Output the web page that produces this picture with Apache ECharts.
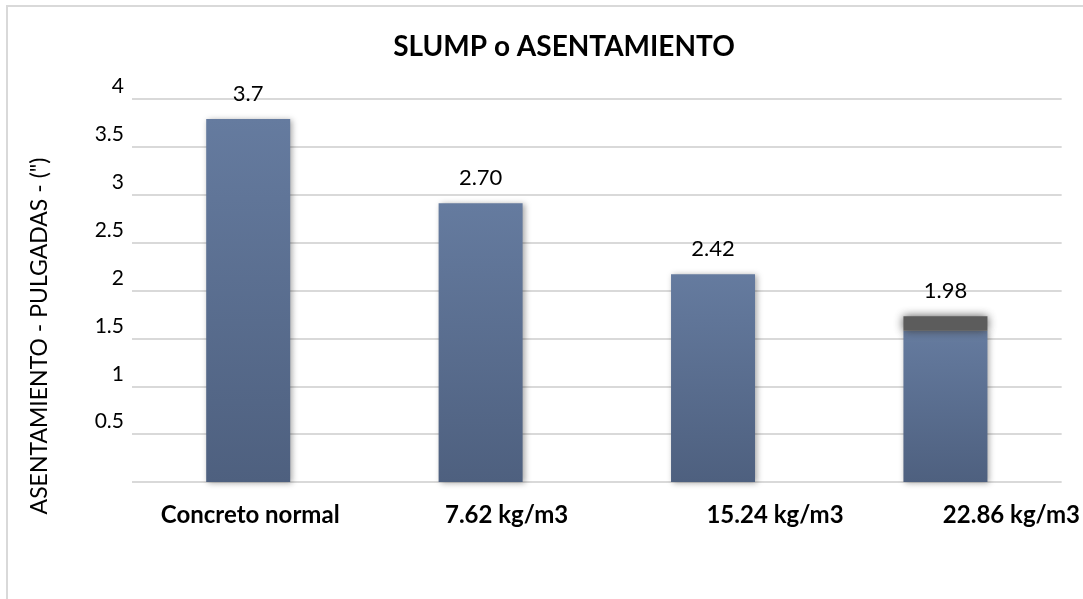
<!DOCTYPE html>
<html>
<head>
<meta charset="utf-8">
<script src="https://cdn.jsdelivr.net/npm/echarts@6/dist/echarts.min.js"></script>
<style>
html,body{margin:0;padding:0;background:#fff;}
#chart{width:1083px;height:599px;}
</style>
</head>
<body>
<div id="chart"></div>
<script>
// ---- data ----
var categories = ['Concreto normal', '7.62 kg/m3', '15.24 kg/m3', '22.86 kg/m3'];
var barValues = [3.79, 2.91, 2.17, 1.58];
var shadeValues = [0, 0, 0, 0.15];
var labelTexts = ['3.7', '2.70', '2.42', '1.98'];
var titleText = 'SLUMP o ASENTAMIENTO';
var yAxisTitle = 'ASENTAMIENTO - PULGADAS - (")';

// ---- style ----
var FONT = 'Lato, "Open Sans", sans-serif';
var labelShift = [2, 26, 62, 66];
var rich = {};
labelShift.forEach(function (s, i) {
  rich['c' + i] = { fontFamily: FONT, fontWeight: 'bold', fontSize: 24, color: '#000', padding: [0, 0, 0, 2 * s] };
});

var chart = echarts.init(document.getElementById('chart'), null, { renderer: 'canvas' });
chart.setOption({
  backgroundColor: '#fff',
  animation: false,
  grid: { left: 132, right: 21, top: 99, bottom: 117 },
  xAxis: {
    type: 'category',
    data: categories,
    axisLine: { show: false },
    axisTick: { show: false },
    axisLabel: {
      margin: 21,
      formatter: function (v) { return '{c' + categories.indexOf(v) + '|' + v + '}'; },
      rich: rich
    }
  },
  yAxis: {
    type: 'value',
    min: 0, max: 4, interval: 0.5,
    axisLine: { show: false },
    axisTick: { show: false },
    splitLine: { lineStyle: { color: '#d9d9d9', width: 2 } },
    axisLabel: {
      showMinLabel: false,
      fontFamily: FONT, fontSize: 21, color: '#000',
      margin: 8, verticalAlign: 'bottom', padding: [0, 0, 2, 0]
    }
  },
  series: [
    {
      type: 'bar',
      stack: 's',
      data: barValues,
      barWidth: 84,
      itemStyle: {
        color: new echarts.graphic.LinearGradient(0, 0, 0, 1, [
          { offset: 0, color: '#657b9f' },
          { offset: 1, color: '#4e607f' }
        ]),
        shadowBlur: 6, shadowColor: 'rgba(0,0,0,0.35)', shadowOffsetX: 2, shadowOffsetY: 1
      }
    },
    {
      type: 'bar',
      stack: 's',
      data: shadeValues,
      barWidth: 84,
      itemStyle: {
        color: '#5c5c5c',
        shadowBlur: 10, shadowColor: 'rgba(60,60,60,0.9)'
      },
      label: {
        show: true,
        position: 'top',
        distance: 14,
        fontFamily: FONT, fontSize: 22, color: '#000',
        formatter: function (p) { return labelTexts[p.dataIndex]; }
      }
    }
  ],
  graphic: [
    {
      type: 'rect', silent: true, z: -1,
      shape: { x: 7, y: 6, width: 1200, height: 700 },
      style: { fill: 'none', stroke: '#d9d9d9', lineWidth: 2 }
    },
    {
      type: 'text', x: 564, y: 47,
      style: { text: titleText, fontFamily: FONT, fontWeight: 'bold', fontSize: 28, fill: '#000', align: 'center', verticalAlign: 'middle' }
    },
    {
      type: 'text', x: 40, y: 336, rotation: Math.PI / 2,
      style: { text: yAxisTitle, fontFamily: FONT, fontSize: 23, fill: '#000', align: 'center', verticalAlign: 'middle' }
    }
  ]
});
</script>
</body>
</html>
